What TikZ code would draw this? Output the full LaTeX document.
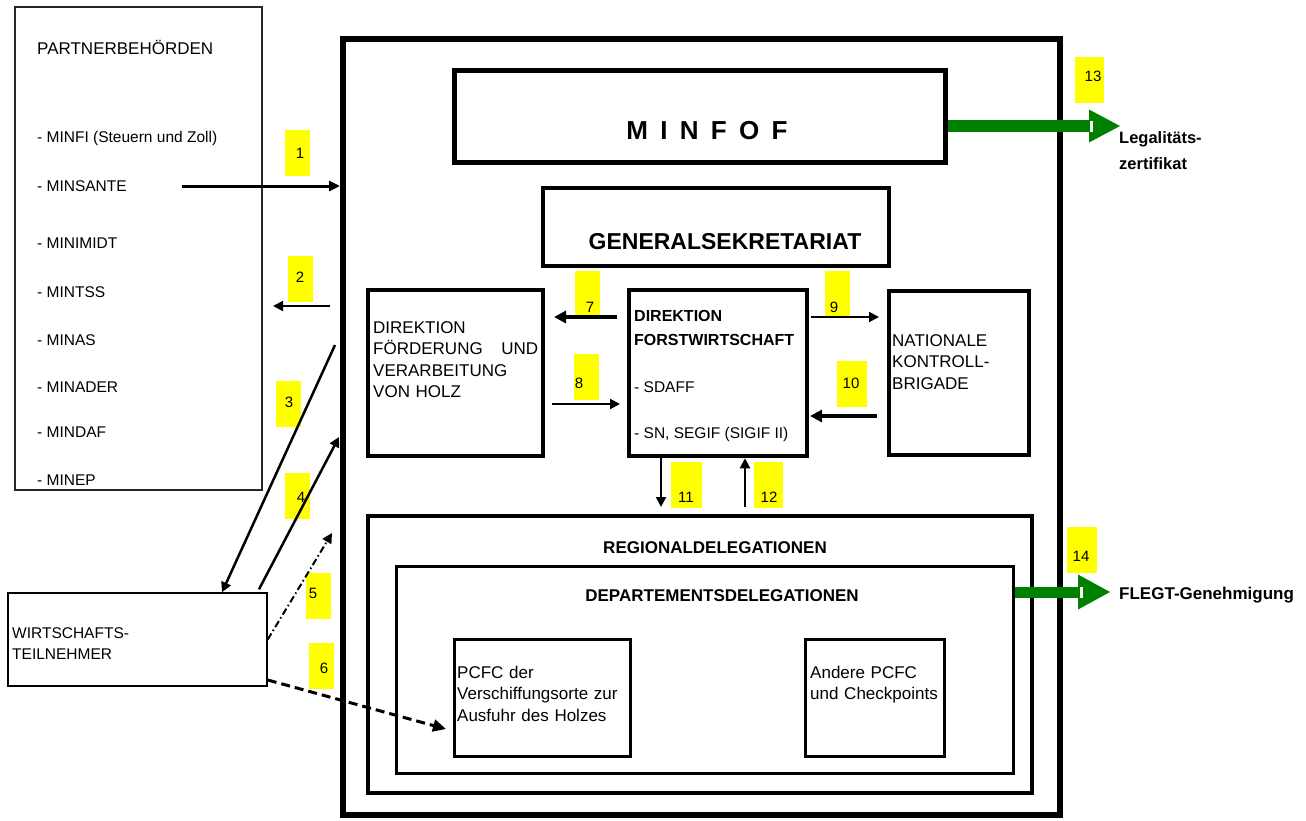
\documentclass[tikz,border=0pt]{standalone}
\usepackage{fontspec}
\setmainfont{Liberation Sans}
\usetikzlibrary{arrows.meta,calc}

\definecolor{tagyellow}{RGB}{255,255,0}
\definecolor{flegtgreen}{RGB}{0,128,0}

\begin{document}
\begin{tikzpicture}[x=1pt,y=-1pt,line join=miter,
  box/.style={draw,inner sep=0pt,line width=4.5pt},
  thinbox/.style={draw=black!85,inner sep=0pt,line width=1.2pt},
  txt/.style={inner sep=0pt,anchor=base west,align=left,text width=200pt,font=\fontsize{17}{21.5}\selectfont},
  listtxt/.style={inner sep=0pt,anchor=base west,font=\fontsize{15.5}{18}\selectfont},
  title/.style={inner sep=0pt,font=\fontsize{17}{20}\selectfont\bfseries},
  tagbox/.style={fill=tagyellow,inner sep=0pt,minimum width=25pt,minimum height=46pt},
  tagnum/.style={inner sep=0pt,font=\fontsize{15}{18}\selectfont},
  arr/.style={line width=2pt,-{Triangle[length=10pt,width=10pt]}},
  fatarr/.style={line width=3.5pt,-{Triangle[length=12pt,width=12pt]}},
  flow/.style={line width=12pt,draw=flegtgreen}]

\useasboundingbox (0,0) rectangle (1306,820);

        % boxes
        \node[thinbox,minimum width=247,minimum height=483] (partner) at (138.5,248.5) {};
        \node[thinbox,draw=black,line width=1.5pt,minimum width=259,minimum height=93] (wirt) at (137.5,639.5) {};
        \node[box,line width=6pt,minimum width=717,minimum height=776] (main) at (701.5,427) {};
        \node[box,line width=5pt,minimum width=491,minimum height=92] (minfof) at (699.5,116) {};
        \node[box,minimum width=346,minimum height=78] (gensek) at (716,227) {};
        \node[box,minimum width=175,minimum height=166] (dfvh) at (455.5,373) {};
        \node[box,minimum width=178,minimum height=166] (dfw) at (718,373) {};
        \node[box,minimum width=140,minimum height=164] (nkb) at (959,373) {};
        \node[box,line width=4pt,minimum width=664,minimum height=277] (regio) at (700,654.5) {};
        \node[box,line width=3pt,minimum width=617,minimum height=207] (dept) at (704.5,669.5) {};
        \node[box,line width=3pt,minimum width=176,minimum height=117] (pcfc) at (542,697.5) {};
        \node[box,line width=3pt,minimum width=139,minimum height=117] (andere) at (874.5,697.5) {};

        % yellow number tags
        \node[tagbox] (t1) at (297.5,152.5) {};
        \node[tagbox] (t2) at (300.5,278.5) {};
        \node[tagbox] (t3) at (288,404) {};
        \node[tagbox] (t4) at (297.5,496) {};
        \node[tagbox] (t5) at (318.5,596) {};
        \node[tagbox] (t6) at (321,666) {};
        \node[tagbox] (t7) at (587.5,293.5) {};
        \node[tagbox] (t8) at (586,376.5) {};
        \node[tagbox] (t9) at (837,293.5) {};
        \node[tagbox,minimum width=30] (t10) at (852,383.5) {};
        \node[tagbox,minimum width=31] (t11) at (686.5,485) {};
        \node[tagbox,minimum width=29] (t12) at (768.5,485) {};
        \node[tagbox,minimum width=29] (t13) at (1089.5,80) {};
        \node[tagbox,minimum width=30] (t14) at (1082,550) {};

        \node[tagnum] (n1) at (300,153) {1};
        \node[tagnum] (n2) at (300,277) {2};
        \node[tagnum] (n3) at (289,402) {3};
        \node[tagnum] (n4) at (301,497) {4};
        \node[tagnum] (n5) at (313,593) {5};
        \node[tagnum] (n6) at (324,668) {6};
        \node[tagnum] (n7) at (590,307) {7};
        \node[tagnum] (n8) at (579,383) {8};
        \node[tagnum] (n9) at (834,307) {9};
        \node[tagnum] (n10) at (851,383) {10};
        \node[tagnum] (n11) at (686,497) {11};
        \node[tagnum] (n12) at (769,497) {12};
        \node[tagnum] (n13) at (1093,76) {13};
        \node[tagnum] (n14) at (1081,556) {14};

        % free arrow ends
        \coordinate (k1) at (182,186);
        \coordinate (k2a) at (330,306);
        \coordinate (k2b) at (273,306);
        \coordinate (k3) at (335,345);
        \coordinate (k4) at (339,437);
        \coordinate (k5) at (332,533);
        \coordinate (k6) at (446,729);
        \coordinate (k7a) at (617,317);
        \coordinate (k7b) at (554,317);
        \coordinate (k8a) at (552,404);
        \coordinate (k8b) at (620,404);
        \coordinate (k9a) at (811,317);
        \coordinate (k9b) at (879,317);
        \coordinate (k10a) at (877,416);
        \coordinate (k10b) at (810,416);
        \coordinate (k11) at (661,507);
        \coordinate (k12) at (745,507);
        \coordinate (k13) at (1120,126);
        \coordinate (k14) at (1110,592);

        % arrows
        \draw[arr,line width=3pt,-{Triangle[length=11pt,width=10pt]}] (k1) -- (k1 -| main.west);
        \draw[arr] (k2a) -- (k2b);
        \draw[arr,line width=2.5pt] (k3) -- ([xshift=84.5pt]wirt.north);
        \draw[arr,line width=2.5pt] ([xshift=121.5pt,yshift=3pt]wirt.north) -- (k4);
        \draw[arr,dash pattern=on 7pt off 3pt on 1.5pt off 3pt] (wirt.east) -- (k5);
        \draw[arr,line width=3pt,dash pattern=on 9pt off 5pt,-{Triangle[length=13pt,width=12pt]}] ([yshift=-40.5pt]wirt.east) -- (k6);
        \draw[fatarr] (k7a) -- (k7b);
        \draw[arr] (k8a) -- (k8b);
        \draw[arr] (k9a) -- (k9b);
        \draw[fatarr] (k10a) -- (k10b);
        \draw[arr] (dfw.south -| k11) -- (k11);
        \draw[arr] (k12) -- (dfw.south -| k12);

        % green outputs
        \draw[flow] (minfof.east |- k13) -- ([xshift=-30pt]k13);
        \fill[flegtgreen] ([xshift=-31pt,yshift=16.5pt]k13) -- (k13) -- ([xshift=-31pt,yshift=-16.5pt]k13) -- cycle;
        \fill[white] (1090,120.5) rectangle (1093,131.5);
        \draw[flow,line width=11pt] (dept.east |- k14) -- ([xshift=-31pt]k14);
        \fill[flegtgreen] ([xshift=-32pt,yshift=17.5pt]k14) -- (k14) -- ([xshift=-32pt,yshift=-17.5pt]k14) -- cycle;
        \fill[white] (1080,587) rectangle (1083,597.5);

        % texts
        \node[listtxt,font=\fontsize{17}{20}\selectfont] (phead) at (37,54) {PARTNERBEHÖRDEN};
        \foreach \name/\yy [count=\i] in {MINFI (Steuern und Zoll)/142.5,MINSANTE/191.5,MINIMIDT/248.5,
            MINTSS/297.5,MINAS/345.5,MINADER/392.5,MINDAF/437.5,MINEP/485.5}
          \node[listtxt] (p\i) at (37,\yy) {- \name};

        \node[title,font=\fontsize{26}{30}\selectfont\bfseries] (minfoftxt) at (707,131) {M\hspace{12.3pt}I\hspace{12.3pt}N\hspace{12.3pt}F\hspace{12.3pt}O\hspace{12.3pt}F};
        \node[title,font=\fontsize{23}{26}\selectfont\bfseries] (gensektxt) at (725,242) {GENERALSEKRETARIAT};
        \node[txt,text width=165pt] (dfvhtxt) at (373,333) {DIREKTION\\FÖRDERUNG\hfill UND\\VERARBEITUNG\\VON HOLZ};
        \node[txt,font=\fontsize{16}{24}\selectfont\bfseries] (dfwtxt) at (634,321) {DIREKTION\\FORSTWIRTSCHAFT};
        \node[listtxt] (sdaff) at (634,392.5) {- SDAFF};
        \node[listtxt] (segif) at (634,438.5) {- SN, SEGIF (SIGIF II)};
        \node[txt] (nkbtxt) at (892,346) {NATIONALE\\KONTROLL-\\BRIGADE};
        \node[title] (regiotxt) at (715,548) {REGIONALDELEGATIONEN};
        \node[title] (depttxt) at (722,596) {DEPARTEMENTSDELEGATIONEN};
        \node[txt] (pcfctxt) at (457,678) {PCFC der\\Verschiffungsorte zur\\Ausfuhr des Holzes};
        \node[txt] (anderetxt) at (810,678) {Andere PCFC\\und Checkpoints};
        \node[txt,font=\fontsize{15.5}{21}\selectfont] (wirttxt) at (12,638.5) {WIRTSCHAFTS-\\TEILNEHMER};
        \node[txt,font=\fontsize{16.5}{26}\selectfont\bfseries] (legaltxt) at (1119,143) {Legalitäts-\\zertifikat};
        \node[txt,font=\fontsize{17}{20}\selectfont\bfseries] (flegttxt) at (1119,599) {FLEGT-Genehmigung};

      \end{tikzpicture}
\end{document}
